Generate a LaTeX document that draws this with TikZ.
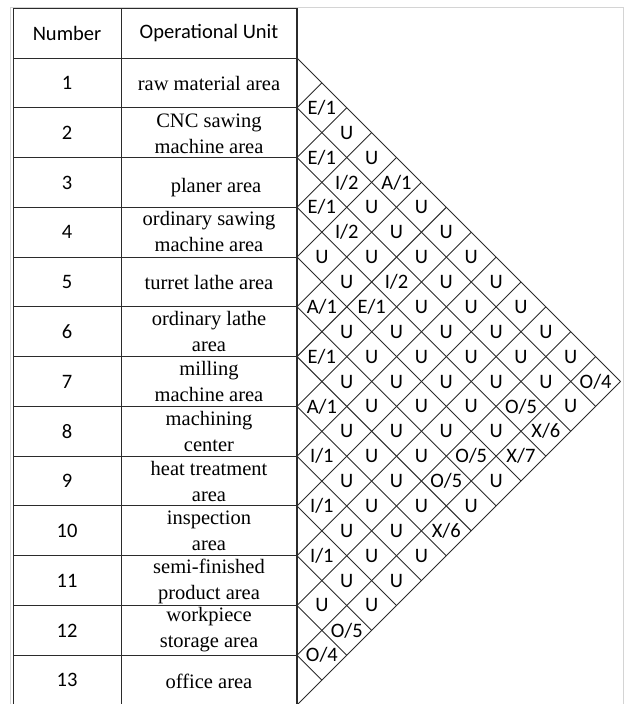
\documentclass[tikz,border=0pt]{standalone}
\usepackage{fontspec}
\setmainfont{Liberation Serif}
\newfontfamily\relfont{Carlito}
\usepackage{tikz}
\definecolor{GridInk}{HTML}{2B2B2B}
\definecolor{FrameGray}{HTML}{D4D4D4}

\begin{document}
\begin{tikzpicture}[x=1pt, y=-1pt, every node/.style={inner sep=0pt}]
  \tikzstyle{numtext}=[font=\relfont\fontsize{20.5}{24}\selectfont]
  \tikzstyle{unittext}=[font=\fontsize{20.5}{26}\selectfont, align=center]
  \tikzstyle{reltext}=[font=\relfont\fontsize{20.5}{24}\selectfont]
  \tikzstyle{rule}=[draw=GridInk, line width=0.9pt]
  \def\rh{49.77}
  \useasboundingbox (0,0) rectangle (625,704);
  \draw[FrameGray, line width=1pt] (10,7) rectangle (623.5,712);

  % table
  \draw[rule] (13,8) rectangle (297,705);
  \draw[rule] (121,8) -- (121,705);
  \draw[rule] (13,58) -- (297,58);
  \foreach \k in {1,...,12}
    \draw[rule] (13,{58+\k*\rh}) -- (297,{58+\k*\rh});
  \draw[GridInk, line width=1.6pt] (297,8) -- (297,705);

  \node[numtext] (hnum) at (67,33) {Number};
  \node[numtext] (hunit) at (209,33) {Operational Unit};
  \foreach \n in {1,...,13}
    \node[numtext] (num\n) at (67,{58+(\n-0.5)*\rh}) {\n};

  \node[unittext] (unit1) at (209,83) {raw material area};
  \node[unittext] (unit2) at (209,134) {CNC sawing\\machine area};
  \node[unittext] (unit3) at (216,188) {planer area};
  \node[unittext] (unit4) at (209,231) {ordinary sawing\\machine area};
  \node[unittext] (unit5) at (209,282) {turret lathe area};
  \node[unittext] (unit6) at (209,331) {ordinary lathe\\area};
  \node[unittext] (unit7) at (209,381) {milling\\machine area};
  \node[unittext] (unit8) at (209,431) {machining\\center};
  \node[unittext] (unit9) at (209,481) {heat treatment\\area};
  \node[unittext] (unit10) at (209,531) {inspection\\area};
  \node[unittext] (unit11) at (209,581) {semi-finished\\product area};
  \node[unittext] (unit12) at (209,630) {workpiece\\storage area};
  \node[unittext] (unit13) at (209,681) {office area};

  % relationship triangle
  \foreach \k in {0,...,13} {
    \draw[rule] (297,{58+\k*\rh}) -- ++({(13-\k)*\rh/2},{(13-\k)*\rh/2});
    \draw[rule] (297,{58+\k*\rh}) -- ++({\k*\rh/2},{-\k*\rh/2});
  }
  \foreach \labels [count=\i] in {
      {E/1,U,U,A/1,U,U,U,U,U,U,U,O/4},
      {E/1,I/2,U,U,U,U,U,U,U,U,U},
      {E/1,I/2,U,I/2,U,U,U,U,O/5,X/6},
      {U,U,E/1,U,U,U,U,U,X/7},
      {A/1,U,U,U,U,U,O/5,U},
      {E/1,U,U,U,U,O/5,U},
      {A/1,U,U,U,U,X/6},
      {I/1,U,U,U,U},
      {I/1,U,U,U},
      {I/1,U,U},
      {U,O/5},
      {O/4}}
    \foreach \lab [count=\d] in \labels {
      \pgfmathtruncatemacro\j{\i+\d}
      \node[reltext] (rel\i-\j) at ({297+\d*\rh/2},{58+(2*\i+\d-1)*\rh/2}) {\lab};
    }
\end{tikzpicture}
\end{document}
